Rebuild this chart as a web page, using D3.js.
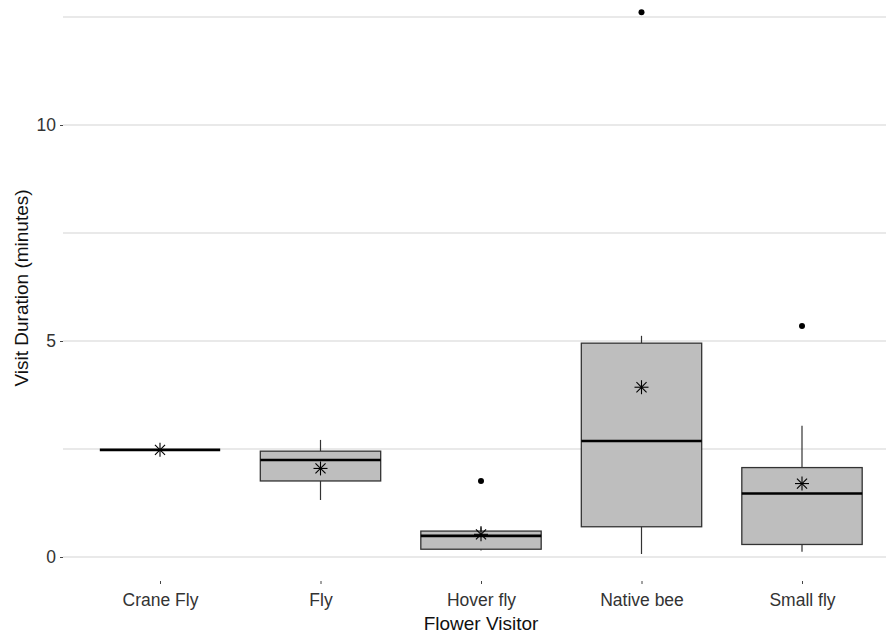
<!DOCTYPE html>
<html><head><meta charset="utf-8">
<script src="https://cdn.jsdelivr.net/npm/d3@7"></script>
<style>body{margin:0;background:#fff}svg{display:block}text{font-family:Arial,"Liberation Sans",sans-serif}</style>
</head><body><svg id="c" width="886" height="634"></svg>
<script>
const categories = ["Crane Fly","Fly","Hover fly","Native bee","Small fly"];
const whiskerLow = [2.48, 1.32, 0.15, 0.07, 0.12];
const q1 =         [2.48, 1.76, 0.18, 0.70, 0.29];
const medians =    [2.48, 2.245, 0.49, 2.685, 1.47];
const q3 =         [2.48, 2.45, 0.60, 4.95, 2.07];
const whiskerHigh= [2.48, 2.71, 0.72, 5.12, 3.04];
const means =      [2.48, 2.05, 0.525, 3.93, 1.70];
const outlierCat = ["Hover fly","Native bee","Small fly"];
const outlierVal = [1.76, 12.61, 5.35];
const yTicks = [0, 5, 10];
const yGrid = [0, 2.5, 5, 7.5, 10, 12.5];

(function(){
const svg = d3.select("#c");
const pLeft = 63, pBottom = 581;
const step = 160.5;
const xc = d3.scalePoint().domain(categories).range([160, 160 + step*4]);
const y = d3.scaleLinear().domain([0, 12.5]).range([557, 557 - 12.5*43.2]);
const bw = step*0.75;

const g = svg.append("g");
g.selectAll("line.grid").data(yGrid).join("line")
  .attr("x1", pLeft).attr("x2", 886).attr("y1", d=>y(d)).attr("y2", d=>y(d))
  .attr("stroke", "#d3d3d3").attr("stroke-width", 1.1);

const yAxis = d3.axisLeft(y).tickValues(yTicks).tickSize(3).tickPadding(4);
const ya = svg.append("g").attr("transform", `translate(${pLeft},0)`).call(yAxis);
ya.select(".domain").remove();
ya.selectAll(".tick line").attr("stroke", "#444");
ya.selectAll(".tick text").attr("font-size", 17.5).attr("fill", "#333");

const xAxis = d3.axisBottom(xc).tickSize(3).tickPadding(10);
const xa = svg.append("g").attr("transform", `translate(0,${pBottom})`).call(xAxis);
xa.select(".domain").remove();
xa.selectAll(".tick line").attr("stroke", "#444");
xa.selectAll(".tick text").attr("font-size", 17.5).attr("fill", "#333");

const data = categories.map((c,i)=>({c, lo:whiskerLow[i], q1:q1[i], med:medians[i], q3:q3[i], hi:whiskerHigh[i], mean:means[i]}));
const bx = g.selectAll("g.box").data(data).join("g");
bx.append("line").attr("x1", d=>xc(d.c)).attr("x2", d=>xc(d.c))
  .attr("y1", d=>y(d.lo)).attr("y2", d=>y(d.q1)).attr("stroke", "#333").attr("stroke-width", 1.2);
bx.append("line").attr("x1", d=>xc(d.c)).attr("x2", d=>xc(d.c))
  .attr("y1", d=>y(d.q3)).attr("y2", d=>y(d.hi)).attr("stroke", "#333").attr("stroke-width", 1.2);
bx.append("rect").attr("x", d=>xc(d.c)-bw/2).attr("width", bw)
  .attr("y", d=>y(d.q3)).attr("height", d=>y(d.q1)-y(d.q3))
  .attr("fill", "#bebebe").attr("stroke", "#333").attr("stroke-width", 1.3);
bx.append("line").attr("x1", d=>xc(d.c)-bw/2).attr("x2", d=>xc(d.c)+bw/2)
  .attr("y1", d=>y(d.med)).attr("y2", d=>y(d.med)).attr("stroke", "#000").attr("stroke-width", 2.6);

g.selectAll("circle.out").data(outlierCat.map((c,i)=>({c, v:outlierVal[i]}))).join("circle")
  .attr("cx", d=>xc(d.c)).attr("cy", d=>y(d.v)).attr("r", 3).attr("fill", "#000");

const s = 7;
const st = g.selectAll("g.mean").data(data).join("g")
  .attr("transform", d=>`translate(${xc(d.c)},${y(d.mean)})`);
[[0,-s,0,s],[-s,0,s,0],[-s*0.72,-s*0.72,s*0.72,s*0.72],[-s*0.72,s*0.72,s*0.72,-s*0.72]].forEach(a=>{
  st.append("line").attr("x1",a[0]).attr("y1",a[1]).attr("x2",a[2]).attr("y2",a[3]).attr("stroke","#000").attr("stroke-width",1.1);
});

svg.append("text").attr("x", (160+160+step*4)/2).attr("y", 630).attr("text-anchor","middle")
  .attr("font-size", 19).attr("fill", "#111").text("Flower Visitor");
svg.append("text").attr("transform", "translate(28,288) rotate(-90)").attr("text-anchor","middle")
  .attr("font-size", 19).attr("fill", "#111").text("Visit Duration (minutes)");
})();
</script></body></html>
